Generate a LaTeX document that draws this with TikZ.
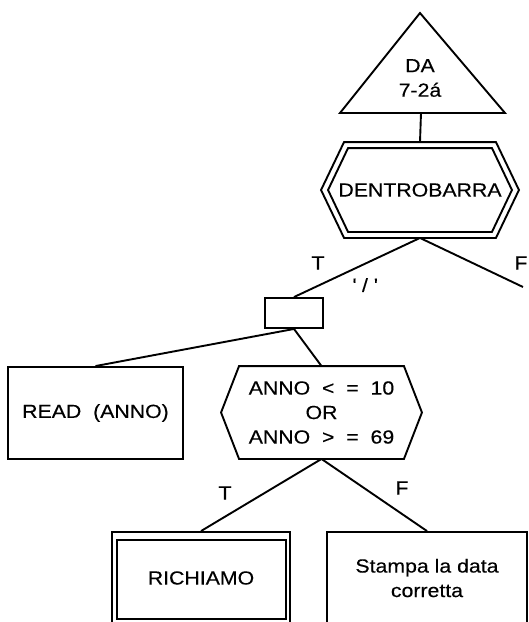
\documentclass[tikz,border=0pt]{standalone}
\usepackage{fontspec}
\setmainfont{Liberation Sans}[FakeStretch=1.12,FakeBold=0.3]
\usetikzlibrary{calc}
\begin{document}
\begin{tikzpicture}[x=1pt,y=-1pt,line width=1.9pt,
  txt/.style={font=\fontsize{19}{24.5}\selectfont,inner sep=0pt,align=center},
  box/.style={txt,draw,rectangle},
  shell/.style={txt,rectangle}]
\fill[white] (0,0) rectangle (529,622);
\useasboundingbox (0,0) rectangle (529,622);

% entry triangle
\coordinate (apex) at (420,13);
\coordinate (bl) at (340,113);
\coordinate (br) at (505,113);
\coordinate (tribase) at (421,113);
\draw[line join=miter] (apex) -- (br) -- (bl) -- cycle;
\node[txt] (da) at (420,78) {DA\\7-2á};

% double hexagon (loop)
\node[shell,minimum width=196pt,minimum height=94pt] (dentro) at (420,190) {DENTROBARRA};
\draw (dentro.west) -- ([xshift=23pt]dentro.north west) -- ([xshift=-23pt]dentro.north east)
  -- (dentro.east) -- ([xshift=-23pt]dentro.south east) -- ([xshift=23pt]dentro.south west) -- cycle;
\draw ([xshift=7pt]dentro.west) -- ([xshift=27pt,yshift=-6pt]dentro.north west)
  -- ([xshift=-27pt,yshift=-6pt]dentro.north east) -- ([xshift=-7pt]dentro.east)
  -- ([xshift=-27pt,yshift=6pt]dentro.south east) -- ([xshift=27pt,yshift=6pt]dentro.south west) -- cycle;

% empty sequence box
\node[box,minimum width=58pt,minimum height=30pt] (sel) at (294,313) {};

\node[box,minimum width=175pt,minimum height=92pt] (read) at (95.5,413) {READ\ \ (ANNO)};

% condition hexagon
\node[shell,minimum width=199pt,minimum height=91pt] (cond) at (321.5,412.5)
  {ANNO \ < \ = \ 10\\OR\\ANNO \ > \ = \ 69};
\draw (cond.west) -- ([xshift=18pt]cond.north west) -- ([xshift=-18pt]cond.north east)
  -- (cond.east) -- ([xshift=-18pt]cond.south east) -- ([xshift=18pt]cond.south west) -- cycle;

% procedure call box
\node[box,minimum width=178pt,minimum height=92pt] (rich) at (201,578) {RICHIAMO};
\draw ([xshift=6pt,yshift=-9pt]rich.north west) rectangle ([xshift=-5pt,yshift=6pt]rich.south east);

\node[box,minimum width=200pt,minimum height=92pt] (stampa) at (427,578) {Stampa la data\\corretta};

\coordinate (fend) at (523,287);

% connectors
\draw (tribase) -- (dentro.north);
\draw (dentro.south) -- (sel.north);
\draw (dentro.south) -- (fend);
\draw (sel.south) -- (read.north);
\draw (sel.south) -- (cond.north);
\draw (cond.south) -- (rich.north);
\draw (cond.south) -- (stampa.north);

% branch labels
\node[txt] (t1) at (318,263) {T};
\node[txt] (f1) at (521,263) {F};
\node[txt] (sl) at (365,285) {\textquotesingle\ /\ \textquotesingle};
\node[txt] (t2) at (225,493) {T};
\node[txt] (f2) at (402,488) {F};
\end{tikzpicture}
\end{document}
